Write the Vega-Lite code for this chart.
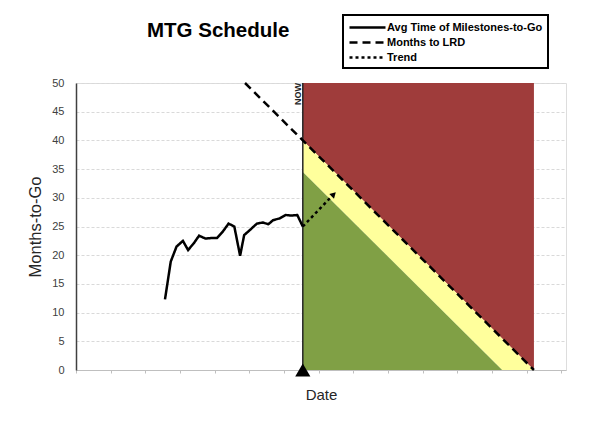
{
  "$schema": "https://vega.github.io/schema/vega-lite/v6.json",
  "autosize": {"type": "none"},
  "width": 490,
  "height": 287,
  "padding": {"left": 76, "top": 83, "right": 25, "bottom": 63},
  "background": "white",
  "title": {
    "text": "MTG Schedule",
    "anchor": "start",
    "frame": "group",
    "dx": 71,
    "offset": -47,
    "baseline": "bottom",
    "font": "Liberation Sans",
    "fontSize": 20.5,
    "fontWeight": "bold",
    "color": "black"
  },
  "datasets": {
    "zones": [
      {"zone": "red", "x": 39.25, "y": 40, "y2": 50},
      {"zone": "red", "x": 79.25, "y": 0, "y2": 50},
      {"zone": "yellow", "x": 39.25, "y": 34.5, "y2": 40},
      {"zone": "yellow", "x": 73.75, "y": 0, "y2": 5.5},
      {"zone": "yellow", "x": 79.25, "y": 0, "y2": 0},
      {"zone": "green", "x": 39.25, "y": 0, "y2": 34.5},
      {"zone": "green", "x": 73.75, "y": 0, "y2": 0}
    ],
    "lines": [
      {"series": "Avg Time of Milestones-to-Go", "x": 15.4, "y": 12.3},
      {"series": "Avg Time of Milestones-to-Go", "x": 16.4, "y": 18.9},
      {"series": "Avg Time of Milestones-to-Go", "x": 17.4, "y": 21.5},
      {"series": "Avg Time of Milestones-to-Go", "x": 18.5, "y": 22.5},
      {"series": "Avg Time of Milestones-to-Go", "x": 19.4, "y": 20.9},
      {"series": "Avg Time of Milestones-to-Go", "x": 20.4, "y": 22.1},
      {"series": "Avg Time of Milestones-to-Go", "x": 21.3, "y": 23.4},
      {"series": "Avg Time of Milestones-to-Go", "x": 22.4, "y": 22.9},
      {"series": "Avg Time of Milestones-to-Go", "x": 23.5, "y": 23.0},
      {"series": "Avg Time of Milestones-to-Go", "x": 24.4, "y": 23.0},
      {"series": "Avg Time of Milestones-to-Go", "x": 25.4, "y": 24.1},
      {"series": "Avg Time of Milestones-to-Go", "x": 26.4, "y": 25.5},
      {"series": "Avg Time of Milestones-to-Go", "x": 27.4, "y": 25.0},
      {"series": "Avg Time of Milestones-to-Go", "x": 28.4, "y": 19.9},
      {"series": "Avg Time of Milestones-to-Go", "x": 29.1, "y": 23.5},
      {"series": "Avg Time of Milestones-to-Go", "x": 30.0, "y": 24.3},
      {"series": "Avg Time of Milestones-to-Go", "x": 31.3, "y": 25.5},
      {"series": "Avg Time of Milestones-to-Go", "x": 32.3, "y": 25.7},
      {"series": "Avg Time of Milestones-to-Go", "x": 33.3, "y": 25.4},
      {"series": "Avg Time of Milestones-to-Go", "x": 34.1, "y": 26.1},
      {"series": "Avg Time of Milestones-to-Go", "x": 35.2, "y": 26.4},
      {"series": "Avg Time of Milestones-to-Go", "x": 36.3, "y": 27.0},
      {"series": "Avg Time of Milestones-to-Go", "x": 37.3, "y": 26.9},
      {"series": "Avg Time of Milestones-to-Go", "x": 38.3, "y": 27.0},
      {"series": "Avg Time of Milestones-to-Go", "x": 39.25, "y": 25.0},
      {"series": "Months to LRD", "x": 29.25, "y": 50},
      {"series": "Months to LRD", "x": 79.25, "y": 0},
      {"series": "Trend", "x": 39.25, "y": 25.0},
      {"series": "Trend", "x": 44.2, "y": 30.2}
    ],
    "now": [{"x": 39.25, "y": 0, "y2": 50, "label": "NOW"}],
    "arrow": [{"x": 44.6, "y": 30.6}]
  },
  "encoding": {
    "x": {
      "field": "x",
      "type": "quantitative",
      "scale": {"domain": [0, 84.8], "nice": false, "zero": false},
      "axis": {
        "title": "Date",
        "labels": false,
        "values": [0, 6, 12, 18, 24, 30, 36, 42, 48, 54, 60, 66, 72, 78, 84],
        "grid": false,
        "domainColor": "#BFBFBF",
        "tickColor": "#BFBFBF",
        "tickSize": 3,
        "titleFont": "Liberation Sans",
        "titleFontSize": 15,
        "titleFontWeight": "normal",
        "titleColor": "#262626",
        "titlePadding": 14
      }
    },
    "y": {
      "field": "y",
      "type": "quantitative",
      "scale": {"domain": [0, 50], "nice": false},
      "axis": {
        "title": "Months-to-Go",
        "values": [0, 5, 10, 15, 20, 25, 30, 35, 40, 45, 50],
        "grid": true,
        "gridColor": "#D9D9D9",
        "gridDash": [3, 2],
        "ticks": false,
        "domainColor": "#404040",
        "domainWidth": 1.5,
        "labelFont": "Liberation Sans",
        "labelFontSize": 11,
        "labelColor": "#404040",
        "labelPadding": 12,
        "titleFont": "Liberation Sans",
        "titleFontSize": 16.5,
        "titleFontWeight": "normal",
        "titleColor": "#262626",
        "titlePadding": 8
      }
    }
  },
  "layer": [
    {
      "data": {"name": "zones"},
      "mark": {"type": "area", "interpolate": "linear"},
      "encoding": {
        "y2": {"field": "y2"},
        "color": {
          "field": "zone",
          "type": "nominal",
          "scale": {"domain": ["red", "yellow", "green"], "range": ["#9F3C3B", "#FFFF9C", "#80A045"]},
          "legend": null
        }
      }
    },
    {
      "data": {"name": "now"},
      "mark": {"type": "rule", "color": "#262626", "strokeWidth": 1.5},
      "encoding": {"y2": {"field": "y2"}}
    },
    {
      "data": {"name": "lines"},
      "mark": {"type": "line", "color": "black", "strokeWidth": 2.5},
      "encoding": {
        "detail": {"field": "series"},
        "strokeDash": {
          "field": "series",
          "type": "nominal",
          "scale": {
            "domain": ["Avg Time of Milestones-to-Go", "Months to LRD", "Trend"],
            "range": [[1, 0], [8, 5], [3, 3]]
          },
          "legend": {
            "title": null,
            "orient": "none",
            "legendX": 267,
            "legendY": -68,
            "strokeColor": "black",
            "fillColor": "white",
            "padding": 5,
            "labelFont": "Liberation Sans",
            "labelFontSize": 11,
            "labelFontWeight": "bold",
            "labelColor": "black",
            "symbolType": "M-3,0H3",
            "symbolSize": 144,
            "symbolOffset": 12,
            "symbolStrokeWidth": 2.5,
            "symbolStrokeColor": "black",
            "rowPadding": 2,
            "labelOffset": 12,
            "encode": {"legend": {"update": {"strokeWidth": {"value": 2}}}}
          }
        }
      }
    },
    {
      "data": {"name": "arrow"},
      "mark": {"type": "point", "shape": "triangle-up", "angle": 45, "filled": true, "color": "black", "size": 45, "opacity": 1}
    },
    {
      "data": {"name": "now"},
      "mark": {"type": "point", "shape": "triangle-up", "filled": true, "color": "black", "size": 230, "opacity": 1}
    },
    {
      "data": {"name": "now"},
      "mark": {"type": "text", "angle": 270, "align": "right", "baseline": "bottom", "font": "Liberation Sans", "fontSize": 9, "fontWeight": "bold", "color": "#262626"},
      "encoding": {
        "y": {"field": "y2", "type": "quantitative"},
        "text": {"field": "label"}
      }
    }
  ]
}
